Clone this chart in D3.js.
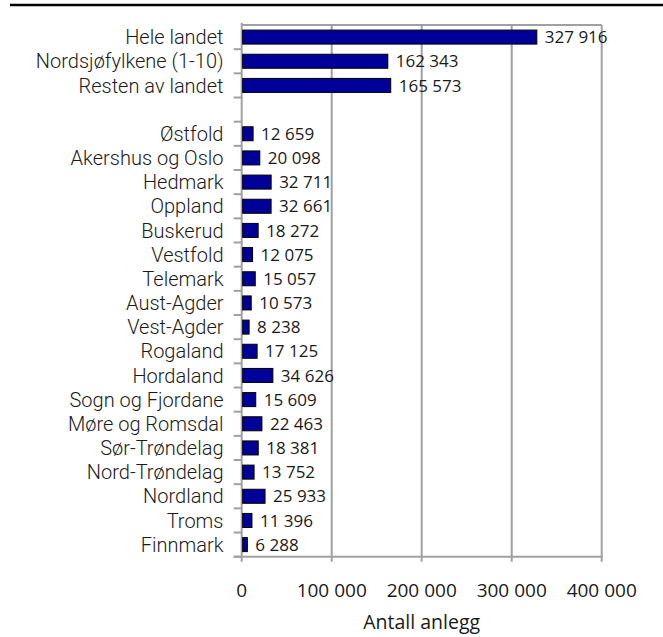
<!DOCTYPE html>
<html>
<head>
<meta charset="utf-8">
<script src="https://cdn.jsdelivr.net/npm/d3@7"></script>
<style>
  html, body { margin: 0; padding: 0; background: #fff; }
  svg { display: block; font-family: "Open Sans", "DejaVu Sans", sans-serif; }
  .cat { font-family: Roboto, "Liberation Sans", sans-serif; font-weight: 300; }
</style>
</head>
<body>
<svg id="chart" width="663" height="637"></svg>
<script>
// Categories, top to bottom; the empty entry is a spacer row between totals and counties
const categories = [
  "Hele landet", "Nordsjøfylkene (1-10)", "Resten av landet", "",
  "Østfold", "Akershus og Oslo", "Hedmark", "Oppland", "Buskerud", "Vestfold",
  "Telemark", "Aust-Agder", "Vest-Agder", "Rogaland", "Hordaland",
  "Sogn og Fjordane", "Møre og Romsdal", "Sør-Trøndelag", "Nord-Trøndelag",
  "Nordland", "Troms", "Finnmark"
];
const values = [
  327916, 162343, 165573, null,
  12659, 20098, 32711, 32661, 18272, 12075,
  15057, 10573, 8238, 17125, 34626,
  15609, 22463, 18381, 13752,
  25933, 11396, 6288
];
const xTicks = [0, 100000, 200000, 300000, 400000];
const xTitle = "Antall anlegg";

const rows = categories.map((c, i) => ({ key: i, label: c, value: values[i] }));

const svg = d3.select("#chart");
const plot = { left: 241.7, right: 601.7, top: 25, bottom: 556.7 };
const gridColor = "#a0a0a0";
const barColor = "#000099";
const textColor = "#1a1a1a";

const nb = d3.formatLocale({ decimal: ",", thousands: "\u00a0", grouping: [3], currency: ["", ""] });
const fmt = nb.format(",.0f");

const x = d3.scaleLinear().domain([0, 400000]).range([plot.left, plot.right]);
const y = d3.scaleBand()
  .domain(rows.map(d => d.key))
  .range([plot.top, plot.bottom])
  .paddingInner(0.42)
  .paddingOuter(0.21);

// Heading rule
svg.append("line")
  .attr("x1", 10).attr("x2", 663).attr("y1", 5).attr("y2", 5)
  .attr("stroke", "#000").attr("stroke-width", 2.6);

// Vertical gridlines
svg.append("g").selectAll("line")
  .data(xTicks.filter(t => t > 0))
  .join("line")
  .attr("x1", d => x(d)).attr("x2", d => x(d))
  .attr("y1", plot.top).attr("y2", plot.bottom + 5)
  .attr("stroke", gridColor).attr("stroke-width", 2);

// Top border
svg.append("line")
  .attr("x1", plot.left).attr("x2", plot.right)
  .attr("y1", plot.top).attr("y2", plot.top)
  .attr("stroke", gridColor).attr("stroke-width", 2);

// Left axis line with ticks between categories
const step = y.step();
const boundaries = d3.range(categories.length + 1).map(i => plot.top + i * step);
svg.append("line")
  .attr("x1", plot.left).attr("x2", plot.left)
  .attr("y1", plot.top - 2).attr("y2", plot.bottom + 5)
  .attr("stroke", gridColor).attr("stroke-width", 2);
svg.append("g").selectAll("line")
  .data(boundaries.slice(1))
  .join("line")
  .attr("x1", plot.left - 8).attr("x2", plot.left)
  .attr("y1", d => d).attr("y2", d => d)
  .attr("stroke", gridColor).attr("stroke-width", 2);

// Bottom axis line
svg.append("line")
  .attr("x1", plot.left - 8).attr("x2", plot.right + 1)
  .attr("y1", plot.bottom).attr("y2", plot.bottom)
  .attr("stroke", gridColor).attr("stroke-width", 2);

// Bars
const barRows = rows.filter(d => d.value != null);
svg.append("g").selectAll("rect")
  .data(barRows)
  .join("rect")
  .attr("x", x(0) + 1)
  .attr("y", d => y(d.key))
  .attr("width", d => x(d.value) - x(0) - 1)
  .attr("height", y.bandwidth())
  .attr("fill", barColor)
  .attr("stroke", "#000").attr("stroke-width", 1);

// Value labels
svg.append("g").selectAll("text")
  .data(barRows)
  .join("text")
  .attr("x", d => x(d.value) + 8)
  .attr("y", d => y(d.key) + y.bandwidth() / 2)
  .attr("dy", "0.36em")
  .attr("font-size", 17)
  .attr("fill", textColor)
  .text(d => fmt(d.value));

// Category labels
svg.append("g").attr("class", "cat").selectAll("text")
  .data(rows.filter(d => d.label))
  .join("text")
  .attr("x", 223.5)
  .attr("y", d => y(d.key) + y.bandwidth() / 2)
  .attr("dy", "0.36em")
  .attr("text-anchor", "end")
  .attr("font-size", 20)
  .attr("fill", textColor)
  .text(d => d.label);

// X tick labels
svg.append("g").selectAll("text")
  .data(xTicks)
  .join("text")
  .attr("x", d => x(d))
  .attr("y", 596.7)
  .attr("text-anchor", "middle")
  .attr("font-size", 19)
  .attr("fill", textColor)
  .text(d => fmt(d));

// X axis title
svg.append("text")
  .attr("x", (plot.left + plot.right) / 2)
  .attr("y", 629)
  .attr("text-anchor", "middle")
  .attr("font-size", 19.5)
  .attr("fill", textColor)
  .text(xTitle);
</script>
</body>
</html>
